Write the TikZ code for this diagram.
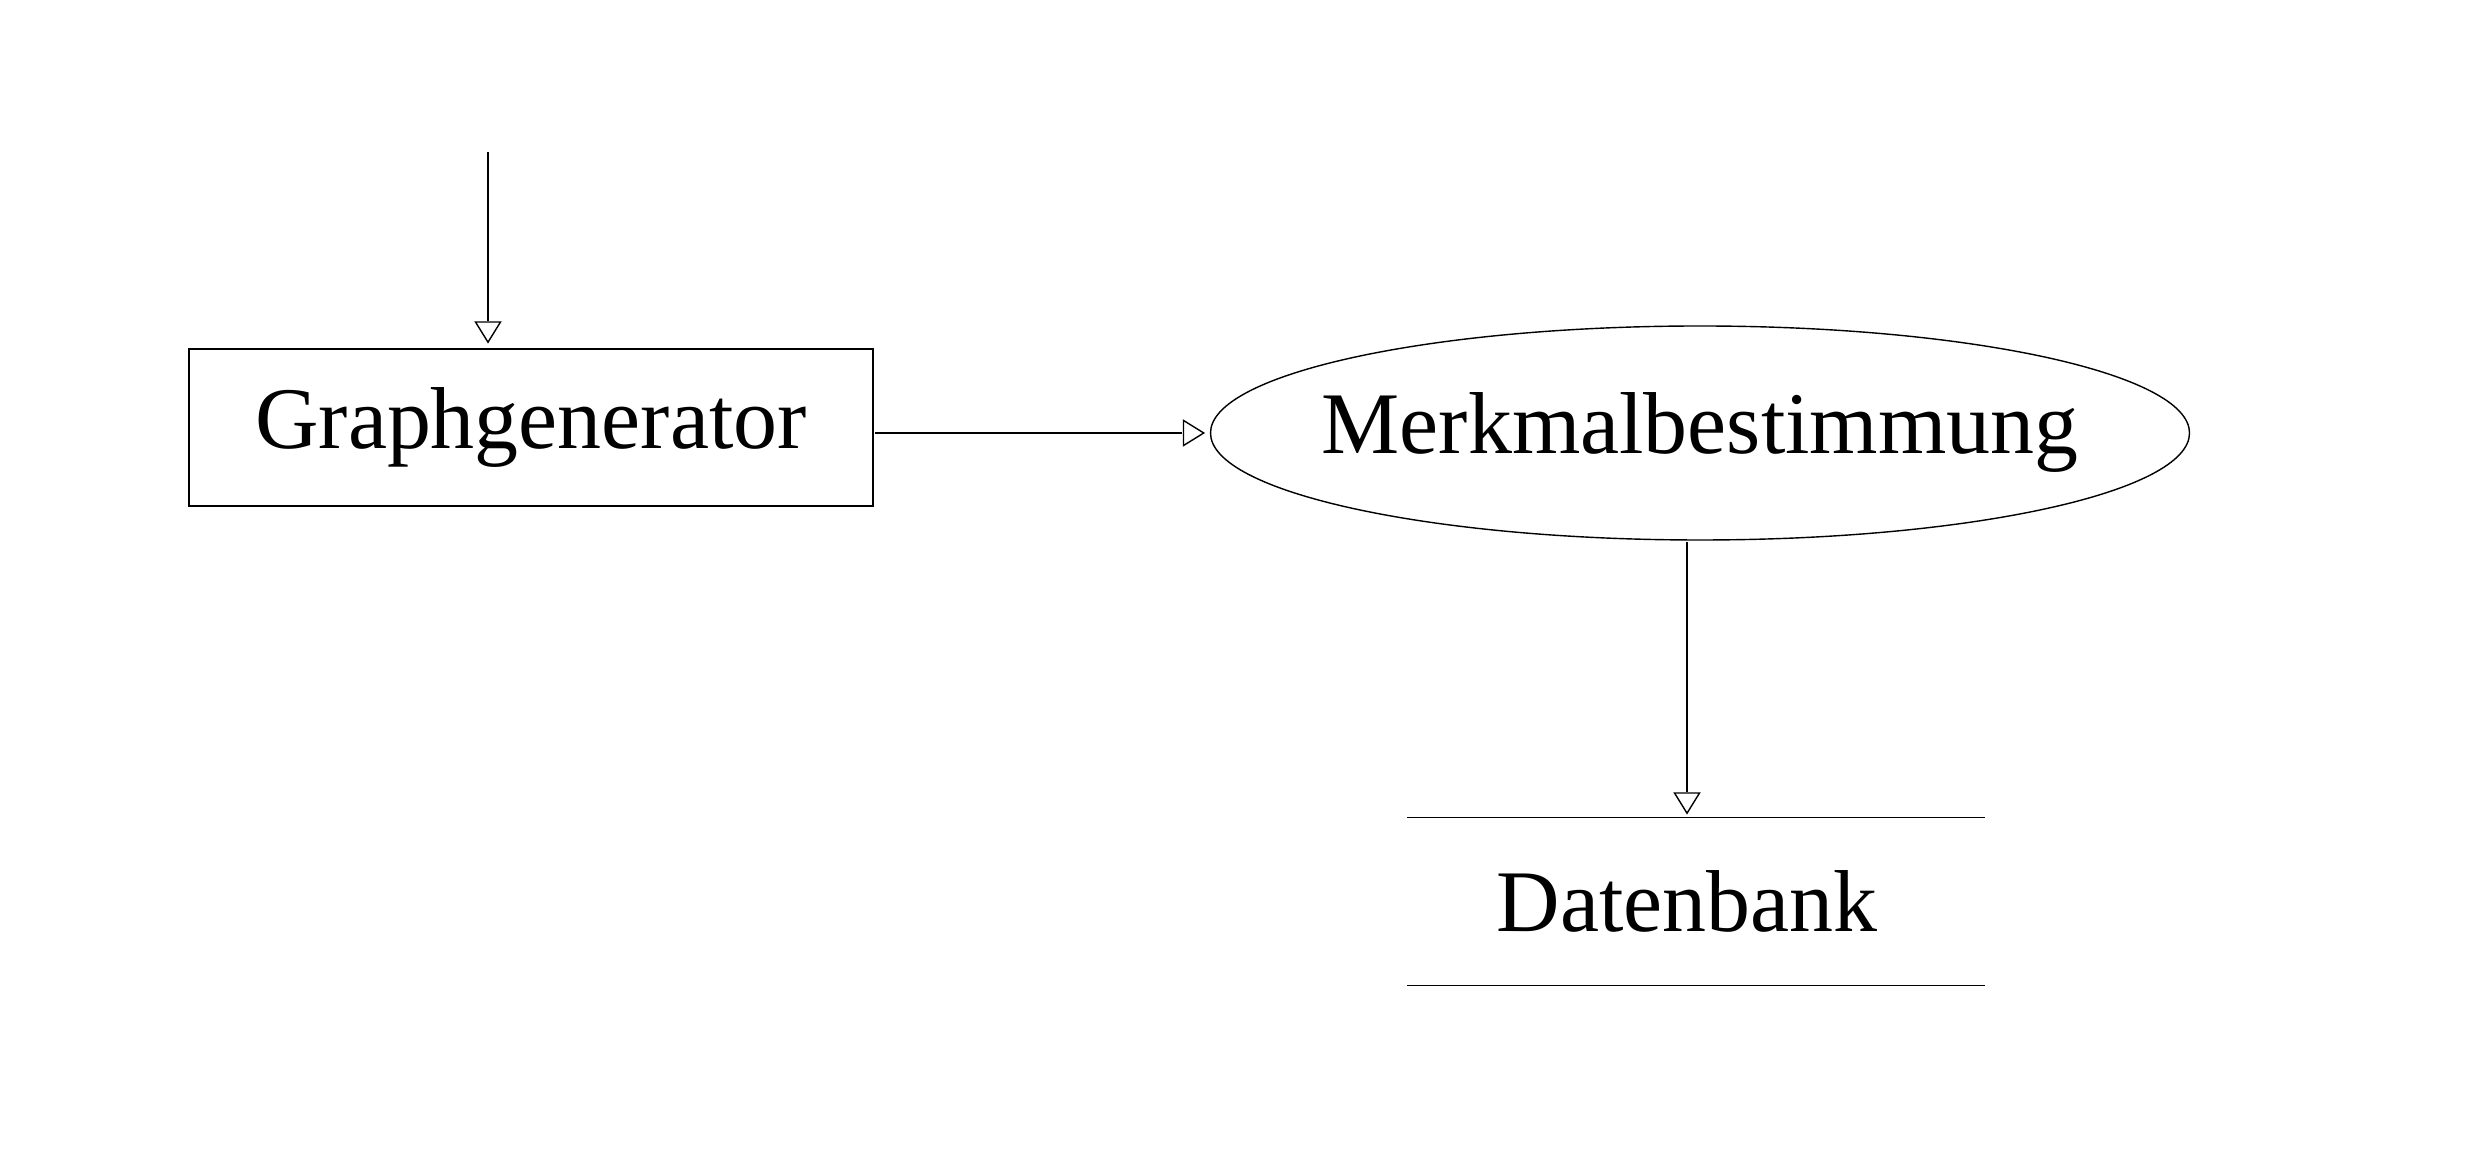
\documentclass[tikz,border=0pt]{standalone}
\usepackage{fontspec}
\setmainfont{Liberation Serif}
\usetikzlibrary{arrows.meta, shapes.geometric, positioning}

\begin{document}
\begin{tikzpicture}
			\tikzset {-{Triangle[open, length=2.7mm, width=3.2mm]}, line width=1.3pt, every node/.style={font=\fontsize{25pt}{30pt}\selectfont, inner sep=0pt}, procbox/.style={draw, rectangle, minimum width=6.84cm, minimum height=1.57cm}, procell/.style={draw, ellipse, minimum width=9.79cm, minimum height=2.14cm}, storebox/.style={minimum width=5.73cm, minimum height=1.63cm} }
			
			\useasboundingbox (0,0) rectangle (24.8,11.49);
			
			\node[procbox] (gen) at (5.31,7.215) {Graphgenerator};
			\node[procell] (merk) at (17.00,7.16) {\makebox[0pt]{Merkmalbestimmung}};
			\node[storebox] (db) at (16.87,2.475) {Datenbank};
			\coordinate (src) at (4.88,9.97);
			
			\draw[-] ([xshift=0.09cm]db.north west) -- ([xshift=0.09cm]db.north east);
			\draw[-] ([xshift=0.09cm]db.south west) -- ([xshift=0.09cm]db.south east);
			
			\draw (src) -- (src |- gen.north);
			\draw (gen.east |- merk.west) -- (merk.west);
			\draw (merk.south -| db.north) -- (db.north);
		\end{tikzpicture}
\end{document}
